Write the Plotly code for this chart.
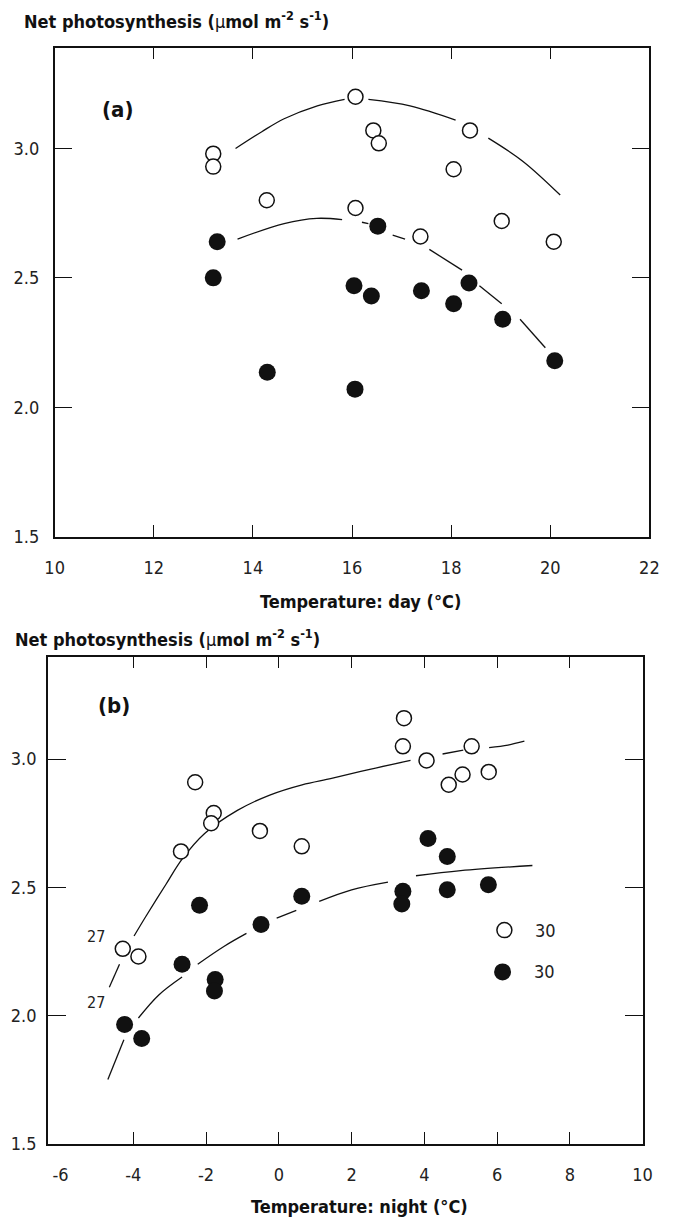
import plotly.graph_objects as go

# ---------------- data: panel (a) day temperature ----------------
a_open_x = [13.2, 13.2, 14.28, 16.07, 16.43, 16.54, 16.07, 17.38, 18.05, 18.38, 19.02, 20.07]
a_open_y = [2.98, 2.93, 2.80, 3.20, 3.07, 3.02, 2.77, 2.66, 2.92, 3.07, 2.72, 2.64]
a_fill_x = [13.28, 13.2, 14.29, 16.06, 16.52, 16.04, 16.39, 17.40, 18.05, 18.36, 19.04, 20.09]
a_fill_y = [2.64, 2.50, 2.135, 2.07, 2.70, 2.47, 2.43, 2.45, 2.40, 2.48, 2.34, 2.18]

# fitted curves (None = break in the drawn line)
a_open_curve_x = [13.65, 14.18, 14.63, 15.3, 15.85, None, 16.33, 17.17, 18.09, None, 18.75, 19.45, 20.2]
a_open_curve_y = [3.00, 3.065, 3.115, 3.165, 3.19, None, 3.19, 3.165, 3.11, None, 3.04, 2.95, 2.82]
a_fill_curve_x = [13.69, 14.63, 15.29, 15.8, None, 16.2, 16.33, None, 16.82, 17.07, None,
                  17.56, 18.22, None, 18.57, 19.02, None, 19.39, 19.9]
a_fill_curve_y = [2.65, 2.71, 2.73, 2.725, None, 2.715, 2.71, None, 2.665, 2.65, None,
                  2.61, 2.53, None, 2.47, 2.40, None, 2.34, 2.23]

# ---------------- data: panel (b) night temperature ----------------
b_open_x = [-4.29, -3.86, -2.69, -2.30, -1.79, -1.86, -0.52, 0.63, 3.44, 3.41, 4.06, 5.30, 5.05, 4.67, 5.77]
b_open_y = [2.26, 2.23, 2.64, 2.91, 2.79, 2.75, 2.72, 2.66, 3.16, 3.05, 2.995, 3.05, 2.94, 2.90, 2.95]
b_fill_x = [-4.24, -3.77, -2.66, -2.18, -1.75, -1.77, -0.49, 0.63, 3.41, 3.38, 4.10, 4.63, 4.63, 5.76]
b_fill_y = [1.965, 1.91, 2.20, 2.43, 2.14, 2.095, 2.355, 2.465, 2.485, 2.435, 2.69, 2.62, 2.49, 2.51]

b_open_curve_x = [-4.66, -4.38, None, -3.98, -3.64, -3.11, -2.66, -2.04, -1.14, -0.25, 0.64, 1.45, 2.5, 3.62,
                  None, 4.50, 5.07, None, 5.78, 6.3, 6.75]
b_open_curve_y = [2.11, 2.20, None, 2.31, 2.39, 2.51, 2.61, 2.71, 2.80, 2.86, 2.90, 2.925, 2.96, 2.995,
                  None, 3.02, 3.035, None, 3.045, 3.055, 3.07]
b_fill_curve_x = [-4.70, -4.26, None, -3.86, -3.3, -2.66, None, -2.23, -1.5, -0.89, None, -0.06, 0.48,
                  None, 1.11, 2.0, 3.0, None, 3.77, 5.0, 6.97]
b_fill_curve_y = [1.75, 1.905, None, 1.99, 2.08, 2.15, None, 2.20, 2.27, 2.32, None, 2.38, 2.41,
                  None, 2.445, 2.49, 2.52, None, 2.545, 2.565, 2.585]

# legend / curve labels in panel (b)
legend_x = [6.2, 6.15]
legend_y = [2.333, 2.17]
legend_text = ["30", "30"]
curve_label_x = [-5.02, -5.02]
curve_label_y = [2.31, 2.05]
curve_label_text = ["27", "27"]

y_ticks = [1.5, 2.0, 2.5, 3.0]
a_x_ticks = [10, 12, 14, 16, 18, 20, 22]
b_x_ticks = [-6, -4, -2, 0, 2, 4, 6, 8, 10]

FONT = "Liberation Sans Narrow, Arial Narrow, DejaVu Sans Condensed, sans-serif"
INK = "#111111"
W, H = 673, 1229

fig = go.Figure()

def curve(x, y, xa, ya):
    fig.add_trace(go.Scatter(x=x, y=y, mode="lines", xaxis=xa, yaxis=ya,
                             line=dict(color=INK, width=1.3, shape="spline"),
                             connectgaps=False, hoverinfo="skip"))

def pts(x, y, xa, ya, filled):
    fig.add_trace(go.Scatter(
        x=x, y=y, mode="markers", xaxis=xa, yaxis=ya,
        marker=dict(symbol="circle", size=17 if filled else 15,
                    color=INK if filled else "white",
                    line=dict(color=INK, width=0 if filled else 1.5))))

curve(a_open_curve_x, a_open_curve_y, "x", "y")
curve(a_fill_curve_x, a_fill_curve_y, "x", "y")
pts(a_open_x, a_open_y, "x", "y", False)
pts(a_fill_x, a_fill_y, "x", "y", True)

curve(b_open_curve_x, b_open_curve_y, "x2", "y2")
curve(b_fill_curve_x, b_fill_curve_y, "x2", "y2")
pts(b_open_x, b_open_y, "x2", "y2", False)
pts(b_fill_x, b_fill_y, "x2", "y2", True)

# legend markers
pts([legend_x[0]], [legend_y[0]], "x2", "y2", False)
pts([legend_x[1]], [legend_y[1]], "x2", "y2", True)

# empty trace that registers the label-only axis of panel (b)
fig.add_trace(go.Scatter(x=b_x_ticks, y=[None] * len(b_x_ticks), xaxis="x3", yaxis="y2",
                         mode="lines", hoverinfo="skip"))

axis_common = dict(showline=True, linecolor=INK, linewidth=1.5, mirror="ticks",
                   ticks="inside", tickcolor=INK, tickwidth=1.3, showgrid=False,
                   zeroline=False, tickfont=dict(family=FONT, size=18, color="#222"))

b_dom = [39 / W, 652 / W]
b_rng = [-6.35, 10]

fig.update_layout(
    width=W, height=H, margin=dict(l=0, r=0, t=0, b=0),
    plot_bgcolor="white", paper_bgcolor="white", showlegend=False,
    xaxis=dict(domain=[46 / W, 659 / W], range=[10, 22], anchor="y",
               tickvals=a_x_ticks, ticktext=[str(v) for v in a_x_ticks],
               ticklen=12, ticklabelstandoff=14, **axis_common),
    yaxis=dict(domain=[1 - 541 / H, 1 - 48 / H], range=[1.5, 3.39], anchor="x",
               tickvals=y_ticks, ticktext=[f"{v:.1f}" for v in y_ticks],
               ticklen=18, ticklabelstandoff=10, **axis_common),
    xaxis2=dict(domain=b_dom, range=b_rng, anchor="y2",
                tickvals=b_x_ticks[1:-1], showticklabels=False,
                ticklen=12, **axis_common),
    xaxis3=dict(domain=b_dom, range=b_rng, anchor="y2", overlaying="x2", side="bottom",
                tickvals=b_x_ticks, ticktext=[str(v) for v in b_x_ticks],
                showline=False, ticks="", showgrid=False, zeroline=False,
                ticklabelstandoff=18, tickfont=dict(family=FONT, size=18, color="#222")),
    yaxis2=dict(domain=[1 - 1153 / H, 1 - 662 / H], range=[1.5, 3.4], anchor="x2",
                tickvals=y_ticks, ticktext=[f"{v:.1f}" for v in y_ticks],
                ticklen=18, ticklabelstandoff=6, **axis_common),
)

ytitle = "<b>Net photosynthesis (</b>µ<b>mol m<sup>-2</sup> s<sup>-1</sup>)</b>"
ann = [
    dict(text=ytitle, x=12 / W, y=1 - 20 / H, xanchor="left", yanchor="middle", font=dict(size=18)),
    dict(text=ytitle, x=3 / W, y=1 - 643 / H, xanchor="left", yanchor="middle", font=dict(size=18)),
    dict(text="<b>Temperature: day (°C)</b>", x=361 / W, y=1 - 606 / H, xanchor="center",
         yanchor="middle", font=dict(size=18)),
    dict(text="<b>Temperature: night (°C)</b>", x=360 / W, y=1 - 1216 / H, xanchor="center",
         yanchor="middle", font=dict(size=18)),
    dict(text="<b>(a)</b>", x=111 / W, y=1 - 110 / H, xanchor="center", yanchor="middle",
         font=dict(size=22)),
    dict(text="<b>(b)</b>", x=107 / W, y=1 - 711 / H, xanchor="center", yanchor="middle",
         font=dict(size=22)),
]
for a in ann:
    a.update(xref="paper", yref="paper", showarrow=False)
    a["font"].update(family=FONT, color=INK)
    fig.add_annotation(**a)

for x, y, t in zip(legend_x, legend_y, legend_text):
    fig.add_annotation(x=x + 0.8, y=y, xref="x2", yref="y2", text=t, showarrow=False,
                       xanchor="left", yanchor="middle",
                       font=dict(family=FONT, size=18, color="#222"))
for x, y, t in zip(curve_label_x, curve_label_y, curve_label_text):
    fig.add_annotation(x=x, y=y, xref="x2", yref="y2", text=t, showarrow=False,
                       xanchor="center", yanchor="middle",
                       font=dict(family=FONT, size=16, color="#222"))

fig.write_html("out.html")
